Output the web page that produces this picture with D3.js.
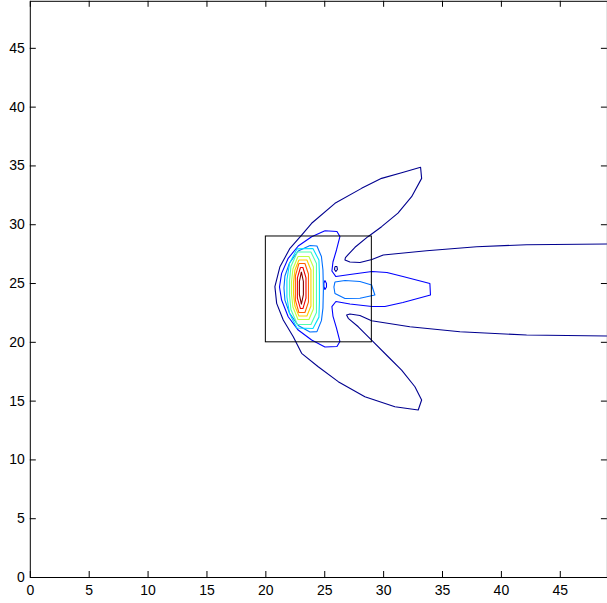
<!DOCTYPE html>
<html>
<head>
<meta charset="utf-8">
<script src="https://cdn.jsdelivr.net/npm/d3@7"></script>
<style>
  html, body { margin: 0; padding: 0; background: #fff; }
  svg { display: block; }
  .tick text { font-family: "Liberation Sans", Arial, sans-serif; font-size: 14px; fill: #000; }
</style>
</head>
<body>
<svg id="chart" width="607" height="603"></svg>
<script>
// Axis limits and tick values
const xDomain = [0, 49];
const yDomain = [0, 49];
const xTicks = [0, 5, 10, 15, 20, 25, 30, 35, 40, 45];
const yTicks = [0, 5, 10, 15, 20, 25, 30, 35, 40, 45];

// Jet colours for the ten contour levels (lowest to highest)
const levelColors = ["#00008F", "#0000FF", "#0070FF", "#00DFFF", "#50FFAF",
                     "#BFFF40", "#FFCF00", "#FF6000", "#EF0000", "#800000"];

// Square marker region [x0, x1] x [y0, y1]
const boxX = [20, 29];
const boxY = [20, 29];

// Contour lines, as [x, y] vertices in data units
const level1Outer = [
  [49.0, 28.32], [42.18, 28.26], [37.94, 28.09], [33.69, 27.75], [30.01, 27.38],
  [29.05, 27.00], [28.03, 26.74], [27.18, 26.79], [26.76, 26.96], [26.80, 27.17],
  [27.61, 28.04], [28.71, 28.94], [29.87, 29.79], [31.26, 30.95], [32.42, 32.34],
  [33.27, 33.90], [33.18, 34.84], [31.57, 34.38], [29.87, 33.90], [28.17, 33.05],
  [25.91, 31.78], [23.93, 30.08], [23.08, 29.08], [22.09, 27.95], [21.24, 26.39],
  [20.81, 24.69], [20.96, 23.27], [21.52, 21.85], [22.37, 20.43], [23.08, 19.02],
  [24.49, 17.88], [26.19, 16.61], [28.45, 15.33], [31.00, 14.48], [32.98, 14.20],
  [33.27, 15.05], [32.70, 16.18], [31.57, 17.60], [30.43, 18.73], [29.02, 20.15],
  [27.89, 21.28], [27.04, 22.00], [26.90, 22.28], [27.18, 22.36], [28.03, 22.24],
  [29.02, 21.79], [32.27, 21.28], [36.52, 20.86], [42.18, 20.58], [49.0, 20.49]
];
const level1Small = [
  [25.91, 26.40], [26.08, 26.40], [26.12, 26.15], [25.99, 25.98], [25.87, 26.15], [25.91, 26.40]
];
const level2Main = [
  [25.06, 29.45], [26.08, 29.38], [26.33, 28.95], [26.04, 27.81], [25.74, 26.79],
  [25.65, 26.02], [25.99, 25.55], [27.18, 25.72], [29.05, 25.98], [30.32, 25.89],
  [31.68, 25.55], [33.97, 24.96], [34.02, 23.98], [31.68, 23.34], [30.15, 23.00],
  [29.05, 23.00], [27.18, 23.21], [25.99, 23.43], [25.65, 23.00], [25.74, 22.19],
  [26.04, 21.17], [26.33, 20.03], [26.08, 19.60], [25.06, 19.56], [23.93, 20.15],
  [22.79, 21.00], [21.94, 22.13], [21.38, 23.55], [21.20, 24.66], [21.38, 25.82],
  [21.94, 27.10], [22.79, 28.15], [23.93, 28.94], [25.06, 29.45]
];
const level2Small = [
  [25.06, 25.21], [25.19, 24.96], [25.19, 24.66], [25.06, 24.45], [24.97, 24.70], [24.97, 25.00], [25.06, 25.21]
];
const level3Main = [
  [23.79, 28.19], [24.38, 28.15], [24.76, 27.25], [24.89, 26.11], [24.93, 24.49],
  [24.89, 22.87], [24.76, 21.80], [24.38, 20.87], [23.79, 20.83], [22.79, 21.39],
  [22.05, 22.45], [21.66, 23.55], [21.58, 24.57], [21.66, 25.60], [22.05, 26.70],
  [22.79, 27.72], [23.79, 28.19]
];
const level3Arm = [
  [25.91, 25.09], [26.76, 25.21], [28.03, 25.13], [29.02, 24.83], [29.30, 23.98],
  [28.03, 23.70], [26.76, 23.68], [25.91, 24.11], [25.82, 24.66], [25.91, 25.09]
];
const level4 = [
  [22.68, 27.90], [24.04, 27.93], [24.55, 26.95], [24.59, 25.68], [24.59, 23.38],
  [24.55, 22.10], [24.04, 21.13], [22.68, 21.17], [22.05, 22.40], [21.83, 23.81],
  [21.83, 25.26], [22.05, 26.66], [22.68, 27.90]
];
const level5 = [
  [22.72, 27.64], [23.87, 27.64], [24.34, 26.66], [24.34, 22.49], [23.87, 21.47],
  [22.72, 21.47], [22.17, 22.75], [22.05, 23.98], [22.05, 25.17], [22.17, 26.40],
  [22.72, 27.64]
];
const level6 = [
  [22.77, 27.25], [23.70, 27.25], [24.08, 26.36], [24.08, 22.79], [23.70, 21.90],
  [22.77, 21.90], [22.34, 22.96], [22.22, 24.06], [22.22, 25.09], [22.34, 26.19],
  [22.77, 27.25]
];
const level7 = [
  [22.85, 26.96], [23.53, 26.96], [23.87, 26.11], [23.87, 23.04], [23.53, 22.19],
  [22.85, 22.19], [22.51, 23.04], [22.39, 24.06], [22.39, 25.09], [22.51, 26.11],
  [22.85, 26.96]
];
const level8 = [
  [22.85, 26.66], [23.36, 26.66], [23.66, 25.77], [23.66, 23.38], [23.36, 22.49],
  [22.85, 22.49], [22.55, 23.55], [22.55, 25.60], [22.85, 26.66]
];
const level9 = [
  [22.98, 26.32], [23.19, 26.32], [23.45, 25.43], [23.45, 23.72], [23.19, 22.83],
  [22.98, 22.83], [22.72, 23.72], [22.72, 25.43], [22.98, 26.32]
];
const level10 = [
  [23.06, 25.94], [23.23, 25.13], [23.23, 24.02], [23.06, 23.21], [22.89, 24.02],
  [22.89, 25.13], [23.06, 25.94]
];

// Each contour line with the index of its level
const contourLines = [
  { level: 0, points: level1Outer },
  { level: 0, points: level1Small },
  { level: 1, points: level2Main },
  { level: 1, points: level2Small },
  { level: 2, points: level3Main },
  { level: 2, points: level3Arm },
  { level: 3, points: level4 },
  { level: 4, points: level5 },
  { level: 5, points: level6 },
  { level: 6, points: level7 },
  { level: 7, points: level8 },
  { level: 8, points: level9 },
  { level: 9, points: level10 }
];

const svg = d3.select("#chart");
const plotLeft = 29.8, plotRight = 606.9, plotTop = 0.8, plotBottom = 577;

const x = d3.scaleLinear().domain(xDomain).range([plotLeft, plotRight]);
const y = d3.scaleLinear().domain(yDomain).range([plotBottom, plotTop]);

// Contour lines
const line = d3.line().x(d => x(d[0])).y(d => y(d[1]));
svg.append("g")
  .selectAll("path")
  .data(contourLines)
  .join("path")
  .attr("d", d => line(d.points))
  .attr("fill", "none")
  .attr("stroke", d => levelColors[d.level])
  .attr("stroke-width", 1.1)
  .attr("stroke-linejoin", "round");

// Marker square
svg.append("rect")
  .attr("x", x(boxX[0]))
  .attr("y", y(boxY[1]))
  .attr("width", x(boxX[1]) - x(boxX[0]))
  .attr("height", y(boxY[0]) - y(boxY[1]))
  .attr("fill", "none")
  .attr("stroke", "#000")
  .attr("stroke-width", 1);

// Axes with inward ticks on all four sides
const tickLen = 6;
const styleAxis = g => {
  g.select(".domain").attr("stroke", "#000").attr("stroke-width", 1);
  g.selectAll(".tick line").attr("stroke", "#000").attr("stroke-width", 1);
};

svg.append("g")
  .attr("transform", `translate(0,${plotBottom})`)
  .call(d3.axisBottom(x).tickValues(xTicks).tickFormat(d3.format("d"))
    .tickSizeInner(-tickLen).tickSizeOuter(0).tickPadding(7))
  .call(styleAxis)
  .call(g => g.selectAll(".tick text").attr("dy", "0.78em"));

svg.append("g")
  .attr("transform", `translate(0,${plotTop})`)
  .call(d3.axisTop(x).tickValues(xTicks).tickFormat("")
    .tickSizeInner(-tickLen).tickSizeOuter(0))
  .call(styleAxis);

svg.append("g")
  .attr("transform", `translate(${plotLeft},0)`)
  .call(d3.axisLeft(y).tickValues(yTicks).tickFormat(d3.format("d"))
    .tickSizeInner(-tickLen).tickSizeOuter(0).tickPadding(5))
  .call(styleAxis);

svg.append("g")
  .attr("transform", `translate(${plotRight},0)`)
  .call(d3.axisRight(y).tickValues(yTicks).tickFormat("")
    .tickSizeInner(-tickLen).tickSizeOuter(0))
  .call(styleAxis);
</script>
</body>
</html>
